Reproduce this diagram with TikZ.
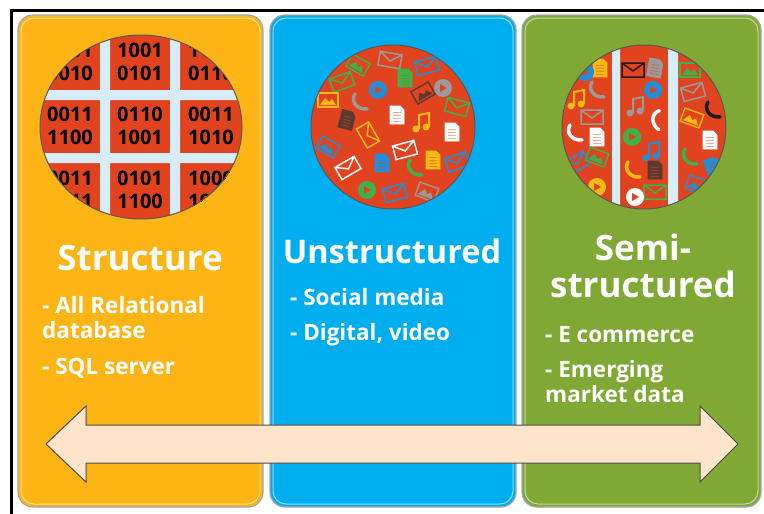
\documentclass[tikz,border=0pt]{standalone}
\usepackage{fontspec}
\setmainfont{Open Sans}
\definecolor{yel}{HTML}{FDB515}
\definecolor{cyn}{HTML}{00AEEF}
\definecolor{grn}{HTML}{7FA934}
\definecolor{cred}{HTML}{E2431F}
\definecolor{cgrid}{HTML}{D6EDF8}
\definecolor{peach}{HTML}{FDE4CB}
\definecolor{icgrey}{HTML}{9A9A9A}
\definecolor{icgreen}{HTML}{3BB34A}
\definecolor{icblue}{HTML}{1E8FD8}
\definecolor{icyel}{HTML}{FDB913}
\definecolor{icdark}{HTML}{5A3A30}
\definecolor{icwhite}{HTML}{FFFFFF}
\definecolor{icblack}{HTML}{1A1A1A}
\tikzset{
  panel/.style={rounded corners=15pt, draw=gray!70, line width=1.2pt},
  ttl/.style={text=white, font=\bfseries\fontsize{35}{37}\selectfont, align=center, anchor=base, inner sep=0pt},
  itm/.style={text=white, font=\bfseries\fontsize{22.5}{25}\selectfont, align=left, anchor=base west, inner sep=0pt},
  bin/.style={font=\bfseries\fontsize{20}{22.5}\selectfont, align=center, inner sep=0pt},
  rim/.style={draw=black!65, line width=1pt}
}
% little icons: x, y, angle, colour
\newcommand{\envl}[4]{\begin{scope}[shift={(#1,#2)},rotate=#3]
  \draw[color=#4,line width=1.5] (-11,-7) rectangle (11,7) (-11,-7) -- (0,1) -- (11,-7);\end{scope}}
\newcommand{\docu}[4]{\begin{scope}[shift={(#1,#2)},rotate=#3]
  \filldraw[color=#4,fill=#4,line width=0.8] (-7,-9) -- (3,-9) -- (7,-5) -- (7,9) -- (-7,9) -- cycle;
  \draw[color=cred!45!#4,line width=1] (-4,-3) -- (4,-3) (-4,0) -- (4,0) (-4,3) -- (4,3) (-4,6) -- (4,6);\end{scope}}
\newcommand{\imag}[4]{\begin{scope}[shift={(#1,#2)},rotate=#3]
  \draw[color=#4,line width=1.4] (-10,-7) rectangle (10,7);
  \fill[color=#4] (-8,5) -- (-3,-2) -- (1,2) -- (4,-1) -- (8,5) -- cycle;\end{scope}}
\newcommand{\phon}[4]{\begin{scope}[shift={(#1,#2)},rotate=#3]
  \draw[color=#4,line width=3.5,line cap=round] (-5,-8) .. controls (-10,0) and (-2,8) .. (7,7);\end{scope}}
\newcommand{\tune}[4]{\begin{scope}[shift={(#1,#2)},rotate=#3]
  \draw[color=#4,line width=2] (-4,6) -- (-4,-8) -- (6,-10) -- (6,4);
  \fill[color=#4] (-7,6) circle (3.5pt) (3,4) circle (3.5pt);\end{scope}}
\newcommand{\playc}[3]{\begin{scope}[shift={(#1,#2)}]
  \fill[color=#3] (0,0) circle (9pt);
  \fill[cred] (-3,-4) -- (4,0) -- (-3,4) -- cycle;\end{scope}}
\begin{document}
\begin{tikzpicture}[x=1pt,y=-1pt]
\useasboundingbox (0,0) rectangle (764,514);
\draw[line width=3pt] (11,514) -- (11,10) -- (764,10);
% the three panels
\foreach \l/\r/\c in {18/263/yel, 270/516/cyn, 522/761/grn} {
  \filldraw[panel, fill=\c] (\l,15) rectangle (\r,507);
  \draw[color=\c!45!white, line width=1pt, rounded corners=13pt] (\l+3,18) rectangle (\r-3,504);
}
% structured: binary grid
\begin{scope}
\clip (141,127) ellipse (101pt and 92pt);
\fill[cred] (38,33) rectangle (245,220);
\fill[cgrid] (100,30) rectangle (110,225) (170,30) rectangle (180,225) (35,90) rectangle (250,100) (35,153) rectangle (250,163);
\foreach \x/\y/\t in {70/62/{1101\\0010}, 140/62/{1001\\0101}, 211/62/{1101\\0110},
  70/126/{0011\\1100}, 140/126/{0110\\1001}, 211/126/{0011\\1010},
  70/190/{0011\\1011}, 140/190/{0101\\1100}, 211/190/{1000\\1011}}
  \node[bin] (b\x-\y) at (\x,\y) {\t};
\end{scope}
\draw[rim] (141,127) ellipse (101pt and 92pt);
% unstructured: icons
\begin{scope}
\clip (393,127) circle (82pt);
\fill[cred] (393,127) circle (83pt);
\foreach \x/\y/\a/\c in {390/60/-10/icgrey, 427/66/15/icblue, 342/82/20/icgreen, 457/107/-15/icgreen, 368/135/-60/icyel,
  405/150/15/icwhite, 348/168/30/icwhite, 457/162/20/icblue, 395/193/15/icblue} \envl{\x}{\y}{\a}{\c};
\foreach \x/\y/\a/\c in {405/78/0/icgreen, 347/120/-15/icdark, 397/115/0/icwhite, 452/132/0/icwhite, 382/163/0/icblue, 433/160/0/icyel}
  \docu{\x}{\y}{\a}{\c};
\foreach \x/\y/\a/\c in {358/65/-30/icgreen, 423/93/30/icdark, 328/100/0/icyel, 328/147/-30/icblue, 427/192/-20/icgrey}
  \imag{\x}{\y}{\a}{\c};
\foreach \x/\y/\c in {378/90/icblue, 443/88/icgrey, 367/190/icgreen} \playc{\x}{\y}{\c};
\phon{360}{102}{0}{icgrey}
\phon{415}{168}{0}{icgreen}
\tune{423}{123}{0}{icyel}
\end{scope}
\draw[rim] (393,127) circle (82pt);
% semi-structured: icons on stripes
\begin{scope}
\clip (644,127) circle (82pt);
\fill[cred] (644,127) circle (83pt);
\fill[cgrid] (612,40) rectangle (620,215) (668,40) rectangle (678,215);
\foreach \x/\y/\a/\c in {633/70/0/icblack, 693/92/15/icgrey, 592/117/0/icgrey, 577/163/30/icblue, 655/192/0/icgreen}
  \envl{\x}{\y}{\a}{\c};
\foreach \x/\y/\a/\c in {600/68/0/icyel, 655/68/-10/icgrey, 597/137/0/icwhite, 710/140/0/icwhite, 655/170/0/icdark, 713/167/20/icblue}
  \docu{\x}{\y}{\a}{\c};
\foreach \x/\y/\a/\c in {690/70/0/icgreen, 692/118/-20/icyel, 597/157/-20/icgreen, 697/185/-20/icblue}
  \imag{\x}{\y}{\a}{\c};
\foreach \x/\y/\c in {585/72/icblue, 653/90/icblue, 632/137/icgreen, 597/187/icyel, 635/197/icwhite} \playc{\x}{\y}{\c};
\foreach \x/\y/\a/\c in {597/90/0/icgrey, 713/110/0/icblack, 575/133/0/icwhite, 658/120/-40/icwhite, 690/157/0/icgreen, 633/170/0/icyel}
  \phon{\x}{\y}{\a}{\c};
\foreach \x/\y/\c in {578/100/icyel, 637/107/icgrey, 653/152/icblue} \tune{\x}{\y}{0}{\c};
\end{scope}
\draw[rim] (644,127) circle (82pt);
% titles and items (base = last line)
\node[ttl] (sttl) at (140,270) {Structure};
\node[ttl, font=\bfseries\fontsize{32.5}{37}\selectfont] (uttl) at (392,263) {Unstructured};
\node[ttl] (mttl) at (643,297) {Semi-\\structured};
\node[itm] (s1) at (42,338) {- All Relational\\database};
\node[itm] (s2) at (42,374) {- SQL server};
\node[itm] (u1) at (290,305) {- Social media};
\node[itm] (u2) at (290,340) {- Digital, video};
\node[itm] (m1) at (545,342) {- E commerce};
\node[itm] (m2) at (545,402) {- Emerging\\market data};
% the double arrow
\filldraw[fill=peach, draw=gray!60!black, line width=1pt] (46,444) -- (86,406) -- (86,425) -- (700,425) -- (700,406)
  -- (738,444) -- (700,482) -- (700,463) -- (86,463) -- (86,482) -- cycle;
\end{tikzpicture}
\end{document}
